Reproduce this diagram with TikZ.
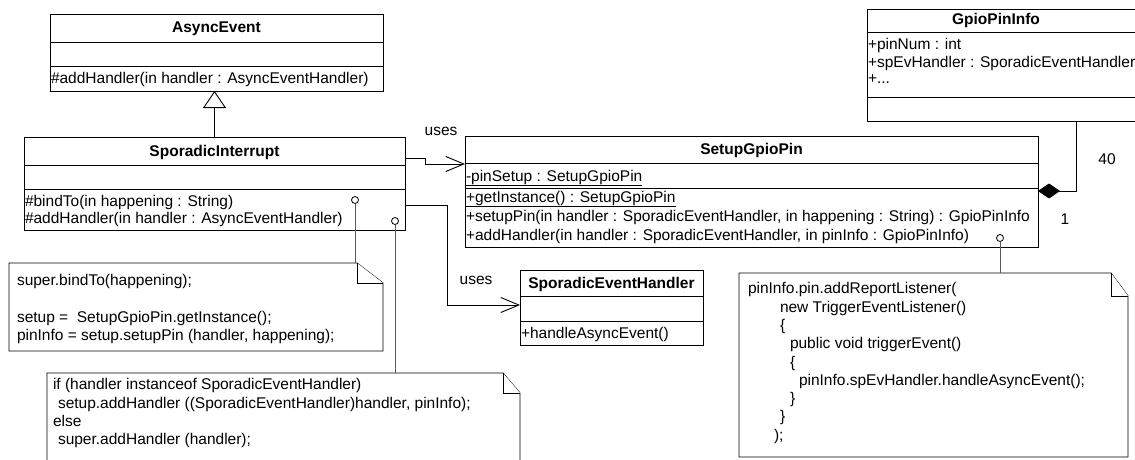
\documentclass[tikz,border=0pt]{standalone}
\usepackage{fontspec}
\setmainfont{Liberation Sans}
\usetikzlibrary{arrows.meta,calc}
\newcommand{\divline}[2]{\draw[rule] ([yshift=-#2pt]#1.north west) -- ([yshift=-#2pt]#1.north east);}
\newcommand{\dogear}[3]{%
  \draw[noteborder] (#1.north west) -- ([xshift=-#2pt]#1.north east) -- ([yshift=-#3pt]#1.north east) -- (#1.south east) -- (#1.south west) -- cycle;
  \draw[noteborder] ([xshift=-#2pt]#1.north east) -- ([xshift=-#2pt,yshift=-#3pt]#1.north east) -- ([yshift=-#3pt]#1.north east);}
\begin{document}
\begin{tikzpicture}[x=1pt,y=-1pt,
  every node/.style={inner sep=0pt, outer sep=0pt},
  rule/.style={line width=0.9pt, black},
  classbox/.style={draw, line width=0.9pt, anchor=north west, rectangle},
  notebase/.style={draw=none, anchor=north west, rectangle},
  noteborder/.style={line width=0.9pt, black, fill=white},
  txt/.style={font=\fontsize{15.5}{18.3}\selectfont, anchor=base west},
  ttl/.style={font=\fontsize{15.5}{18.3}\selectfont\bfseries, anchor=base},
  code/.style={font=\fontsize{15.5}{18.3}\selectfont, anchor=north west, align=left},
  lolli/.style={circle, draw, fill=white, line width=0.8pt, minimum size=7pt},
  noteline/.style={line width=0.9pt, black!65},
  uses/.style={line width=0.9pt, -{Straight Barb[length=18pt,width=15pt,line width=0.9pt]}}
]
\useasboundingbox (0,0) rectangle (1135,460);
\fill[white] (0,0) rectangle (1135,460);
\clip (0,0) rectangle (1135,460);

% AsyncEvent
\node[classbox, minimum width=333pt, minimum height=77pt] (ae) at (50,14) {};
\divline{ae}{28}
\divline{ae}{52}
\node[ttl] (aet) at (216.5,33) {AsyncEvent};
\node[txt] (aeo) at (51,83) {\#addHandler(in handler : AsyncEventHandler)};

% SporadicInterrupt
\node[classbox, minimum width=381pt, minimum height=93pt] (si) at (24,137) {};
\divline{si}{28}
\divline{si}{52}
\node[ttl] (sit) at (214.5,156) {SporadicInterrupt};
\node[txt] (sio1) at (25,206) {\#bindTo(in happening : String)};
\node[txt] (sio2) at (25,223) {\#addHandler(in handler : AsyncEventHandler)};

% SetupGpioPin
\node[classbox, minimum width=573pt, minimum height=111pt] (sg) at (465,136) {};
\divline{sg}{27}
\divline{sg}{52}
\node[ttl] (sgt) at (751.5,154) {SetupGpioPin};
\node[txt] (sga) at (466,181) {\underline{-pinSetup : SetupGpioPin}};
\node[txt] (sgo1) at (466,202) {\underline{+getInstance() : SetupGpioPin}};
\node[txt] (sgo2) at (466,221) {+setupPin(in handler : SporadicEventHandler, in happening : String) : GpioPinInfo};
\node[txt] (sgo3) at (466,240) {+addHandler(in handler : SporadicEventHandler, in pinInfo : GpioPinInfo)};

% SporadicEventHandler
\node[classbox, minimum width=183pt, minimum height=75pt] (seh) at (520,270) {};
\divline{seh}{26}
\divline{seh}{51}
\node[ttl] (seht) at (611.5,288) {SporadicEventHandler};
\node[txt] (seho) at (521,338) {+handleAsyncEvent()};

% GpioPinInfo
\node[classbox, minimum width=275pt, minimum height=112pt] (gp) at (867,9) {};
\divline{gp}{23}
\divline{gp}{88}
\node[ttl] (gpt) at (996,25) {GpioPinInfo};
\node[txt] (gpa1) at (868,50) {+pinNum : int};
\node[txt] (gpa2) at (868,67) {+spEvHandler : SporadicEventHandler};
\node[txt] (gpa3) at (868,84) {+...};

% generalization
\draw[line width=0.9pt, -{Triangle[open, length=17pt, width=23pt, line width=0.9pt, fill=white]}] (si.north) -- (si.north |- ae.south);

% uses connectors
\draw[uses] ([yshift=-21pt]si.north east) -- ++(20,0) |- ([yshift=-28pt]sg.north west);
\node[txt, anchor=base] (u1) at (441,135) {uses};
\draw[uses] ([yshift=-68pt]si.north east) -- ++(42,0) |- ([yshift=-35pt]seh.north west);
\node[txt, anchor=base] (u2) at (476,284) {uses};

% composition
\draw[line width=0.9pt, -{Diamond[length=22pt, width=15pt]}] ([xshift=209pt]gp.south west) |- ([yshift=-55pt]sg.north east);
\node[txt, anchor=base] (m40) at (1107,164) {40};
\node[txt, anchor=base] (m1) at (1065,224) {1};

% notes
\node[notebase, minimum width=374pt, minimum height=88pt] (n1) at (9,263) {};
\dogear{n1}{26}{20}
\node[code] (n1t) at (17,273) {\strut super.bindTo(happening);\\ \strut\\ \strut setup = \ SetupGpioPin.getInstance();\\ \strut pinInfo = setup.setupPin (handler, happening);};

\node[notebase, minimum width=473pt, minimum height=100pt] (n2) at (47,373) {};
\dogear{n2}{17}{20}
\node[code] (n2t) at (53,377) {\strut if (handler instanceof SporadicEventHandler)\\ \strut\hspace*{5pt}setup.addHandler ((SporadicEventHandler)handler, pinInfo);\\ \strut else\\ \strut\hspace*{5pt}super.addHandler (handler);};

\node[notebase, minimum width=389pt, minimum height=184pt] (n3) at (739,273) {};
\dogear{n3}{17}{23}
\node[code] (n3t) at (748,281) {\strut pinInfo.pin.addReportListener(\\
\strut\hspace*{32pt}new TriggerEventListener()\\
\strut\hspace*{32pt}\{\\
\strut\hspace*{42pt}public void triggerEvent()\\
\strut\hspace*{42pt}\{\\
\strut\hspace*{51pt}pinInfo.spEvHandler.handleAsyncEvent();\\
\strut\hspace*{42pt}\}\\
\strut\hspace*{32pt}\}\\
\strut\hspace*{26pt});};

% lollipops and note links
\node[lolli] (l1) at (355,200) {};
\node[lolli] (l2) at (395,221) {};
\node[lolli] (l3) at (1000,238) {};
\draw[noteline] (l1.south) -- (l1.south |- n1.north);
\draw[noteline] (l2.south) -- (l2.south |- n2.north);
\draw[noteline] (l3.south) -- (l3.south |- n3.north);
\end{tikzpicture}
\end{document}
